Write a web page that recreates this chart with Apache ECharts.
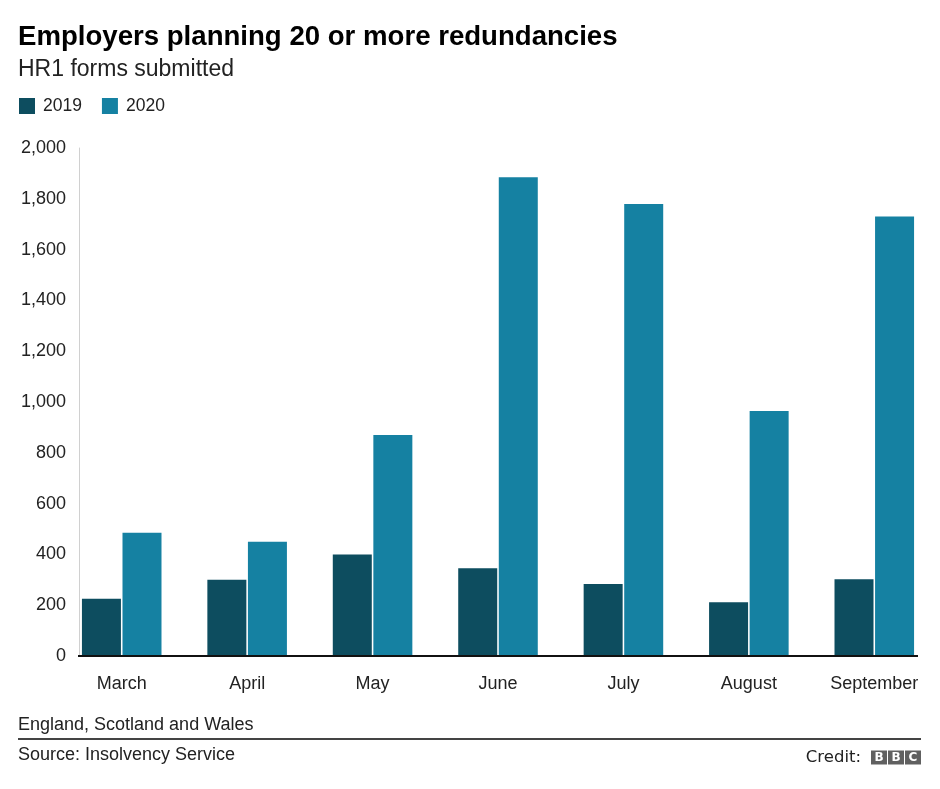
<!DOCTYPE html>
<html>
<head>
<meta charset="utf-8">
<script src="https://cdn.jsdelivr.net/npm/echarts@6/dist/echarts.min.js"></script>
<style>
html,body{margin:0;padding:0;background:#fff;}
#chart{width:940px;height:789px;}
</style>
</head>
<body>
<div id="chart"></div>
<script>
var categories = ['March', 'April', 'May', 'June', 'July', 'August', 'September'];
var values2019 = [225, 300, 400, 345, 283, 212, 302];
var values2020 = [485, 450, 870, 1885, 1780, 965, 1730];
var seriesNames = ['2019', '2020'];
var yTicks = [0, 2000, 200];

var FONT = '"Liberation Sans", Arial, Helvetica, sans-serif';
var chart = echarts.init(document.getElementById('chart'), null, {renderer: 'canvas'});
chart.setOption({
  animation: false,
  backgroundColor: '#ffffff',
  textStyle: {fontFamily: FONT},
  title: [
    {text: 'Employers planning 20 or more redundancies', left: 18, top: 23, padding: 0,
     textStyle: {fontFamily: FONT, fontSize: 27.6, fontWeight: 'bold', color: '#000'}},
    {text: 'HR1 forms submitted', left: 18, top: 58, padding: 0,
     textStyle: {fontFamily: FONT, fontSize: 23, fontWeight: 'normal', color: '#222'}},
    {text: 'England, Scotland and Wales', left: 18, top: 716, padding: 0,
     textStyle: {fontFamily: FONT, fontSize: 18, fontWeight: 'normal', color: '#222'}},
    {text: 'Source: Insolvency Service', left: 18, top: 746, padding: 0,
     textStyle: {fontFamily: FONT, fontSize: 18, fontWeight: 'normal', color: '#222'}},
    {text: '{c|Credit:}{g| }{b|B}{s| }{b|B}{s| }{b|C}', right: 19, top: 749, padding: 0,
     textStyle: {fontWeight: 'normal', rich: {
       c: {fontFamily: '"DejaVu Sans", sans-serif', fontSize: 16.5, fontWeight: 'normal', color: '#222'},
       g: {fontSize: 4, width: 10},
       s: {fontSize: 4, width: 1},
       b: {fontFamily: '"DejaVu Sans", sans-serif', fontSize: 12, fontWeight: 'bold', color: '#fff',
           backgroundColor: '#606060', width: 16, height: 14, align: 'center', lineHeight: 14}
     }}}
  ],
  legend: {
    left: 19, top: 97, padding: 0, icon: 'rect', itemWidth: 16, itemHeight: 16, itemGap: 20,
    textStyle: {fontFamily: FONT, fontSize: 17.5, color: '#222', padding: [0, 0, 0, 3]},
    data: seriesNames
  },
  grid: {left: 59, right: 3, top: 148, bottom: 133, containLabel: false},
  xAxis: {
    type: 'category', data: categories,
    axisLine: {show: false}, axisTick: {show: false},
    axisLabel: {fontFamily: FONT, fontSize: 18, color: '#222', margin: 19}
  },
  yAxis: {
    type: 'value', min: yTicks[0], max: yTicks[1], interval: yTicks[2], offset: -20,
    axisLine: {show: true, lineStyle: {color: '#d0d0d0', width: 1}},
    axisTick: {show: false}, splitLine: {show: false},
    axisLabel: {fontFamily: FONT, fontSize: 18, color: '#222', margin: 13,
      formatter: function (v) { return v.toLocaleString('en-US'); }}
  },
  series: [
    {name: seriesNames[0], type: 'bar', data: values2019, barWidth: 39, barGap: '4%',
     itemStyle: {color: '#0d4d5f'}},
    {name: seriesNames[1], type: 'bar', data: values2020, barWidth: 39,
     itemStyle: {color: '#1581a2'}}
  ],
  graphic: [
    {type: 'line', shape: {x1: 78, y1: 656, x2: 918, y2: 656}, style: {stroke: '#111', lineWidth: 2}, z: 10},
    {type: 'line', shape: {x1: 18, y1: 739, x2: 921, y2: 739}, style: {stroke: '#444', lineWidth: 2}}
  ]
});
</script>
</body>
</html>
